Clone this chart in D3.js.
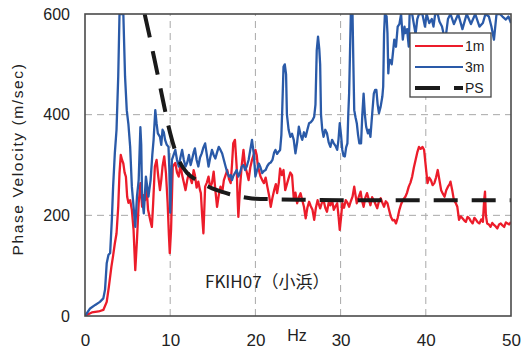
<!DOCTYPE html>
<html>
<head>
<meta charset="utf-8">
<script src="https://cdn.jsdelivr.net/npm/d3@7"></script>
<style>
  html, body { margin: 0; padding: 0; background: #fff; }
  svg { display: block; }
  text { font-family: "Liberation Sans", Arial, "Noto Sans CJK JP", sans-serif; fill: #222; }
</style>
</head>
<body>
<svg id="chart" width="523" height="356"></svg>
<script>
// Phase velocity dispersion curves, site FKIH07 (小浜)
const xTicks = [0, 10, 20, 30, 40, 50];
const yTicks = [0, 200, 400, 600];
const seriesNames = ["1m", "3m", "PS"];

// 1 m array: [frequency Hz, phase velocity m/s]
const red1m = [
  [0,0],[0.2,2],[0.8,7],[1.6,9],[2.15,12],[2.55,28],[2.8,58],[3.1,98],[3.3,120],[3.5,144],[3.7,164],[3.9,217],
  [4.05,284],[4.2,320],[4.35,310],[4.5,303],[4.65,285],[4.8,277],[4.95,237],[5.1,225],[5.3,230],[5.5,211],[5.7,171],
  [5.9,91],[6.1,151],[6.3,224],[6.5,264],[6.7,217],[6.9,240],[7.05,230],[7.25,250],[7.4,211],[7.65,191],[7.85,177],
  [8.0,224],[8.2,297],[8.4,310],[8.6,277],[8.8,250],[8.95,270],[9.1,297],[9.3,317],[9.5,284],[9.7,224],[9.85,160],
  [9.95,125],[10.1,171],[10.3,297],[10.6,304],[10.8,285],[11.0,277],[11.2,300],[11.4,280],[11.6,265],[11.8,250],
  [12.0,270],[12.2,284],[12.4,272],[12.55,264],[12.75,290],[12.9,280],[13.1,255],[13.3,267],[13.5,250],[13.6,244],
  [13.75,200],[13.9,164],[14.1,257],[14.3,265],[14.5,277],[14.7,255],[14.9,264],[15.1,287],[15.3,250],[15.5,217],
  [15.7,240],[15.9,257],[16.1,245],[16.3,270],[16.5,280],[16.7,290],[16.9,272],[17.1,264],[17.25,300],[17.4,343],
  [17.6,350],[17.8,297],[17.9,240],[18.0,197],[18.2,257],[18.4,300],[18.6,330],[18.8,297],[19.0,285],[19.2,270],
  [19.4,295],[19.6,310],[19.8,320],[20.0,330],[20.15,320],[20.3,297],[20.6,277],[20.8,270],[21.0,264],[21.2,275],
  [21.4,257],[21.6,240],[21.8,217],[22.0,235],[22.2,250],[22.4,262],[22.55,244],[22.75,265],[22.9,293],[23.1,280],
  [23.3,290],[23.5,250],[23.7,262],[23.9,274],[24.1,285],[24.3,280],[24.5,234],[24.7,245],[24.9,224],[25.1,236],
  [25.3,244],[25.5,230],[25.7,217],[25.9,194],[26.1,215],[26.3,227],[26.5,218],[26.7,211],[26.9,191],[27.1,215],
  [27.3,230],[27.6,214],[27.8,225],[28.0,230],[28.2,215],[28.4,207],[28.6,225],[28.8,220],[29.0,230],[29.2,211],
  [29.4,218],[29.6,224],[29.75,200],[29.9,171],[30.05,195],[30.2,224],[30.4,215],[30.6,230],[30.8,225],[31.0,217],
  [31.2,228],[31.4,237],[31.6,257],[31.75,240],[31.9,224],[32.1,235],[32.35,247],[32.5,230],[32.7,217],[32.9,235],
  [33.1,244],[33.3,232],[33.5,220],[33.7,236],[33.9,230],[34.1,222],[34.3,214],[34.5,228],[34.7,234],[34.9,225],
  [35.1,217],[35.3,228],[35.5,224],[35.7,210],[35.9,197],[36.1,190],[36.3,191],[36.5,184],[36.7,195],[36.9,211],
  [37.1,222],[37.3,230],[37.6,237],[37.8,245],[38.0,257],[38.2,265],[38.4,277],[38.6,295],[38.8,310],[39.0,325],
  [39.2,336],[39.4,332],[39.6,336],[39.8,330],[40.0,297],[40.2,264],[40.4,275],[40.6,270],[40.8,260],[41.0,264],
  [41.2,275],[41.4,290],[41.6,270],[41.8,250],[42.0,243],[42.2,237],[42.4,250],[42.6,257],[42.8,262],[42.9,267],
  [43.1,250],[43.3,230],[43.5,225],[43.7,217],[43.9,191],[44.1,198],[44.3,194],[44.5,190],[44.7,187],[44.9,197],
  [45.1,194],[45.3,188],[45.5,184],[45.7,195],[45.9,191],[46.1,186],[46.3,184],[46.5,192],[46.7,187],[46.85,230],
  [46.95,247],[47.05,200],[47.2,184],[47.4,182],[47.6,177],[47.8,185],[48.0,181],[48.2,178],[48.4,174],[48.6,182],
  [48.8,184],[49.0,180],[49.2,177],[49.4,186],[49.6,184],[49.8,182],[50.0,187]
];

// 3 m array: [frequency Hz, phase velocity m/s]
const blue3m = [
  [0,0],[0.2,5],[0.6,15],[1.2,22],[1.75,28],[2.15,35],[2.35,52],[2.55,105],[2.75,121],[2.95,125],[3.15,191],
  [3.3,257],[3.5,323],[3.7,370],[3.9,476],[4.05,600],[4.5,600],[4.7,476],[4.9,409],[5.1,380],[5.3,336],[5.5,257],
  [5.7,217],[5.9,177],[6.1,237],[6.3,270],[6.5,375],[6.6,340],[6.7,237],[6.9,204],[7.15,277],[7.45,237],[7.7,270],
  [7.9,320],[8.05,350],[8.25,409],[8.4,383],[8.55,363],[8.8,356],[8.95,340],[9.1,370],[9.25,365],[9.4,350],[9.6,340],
  [9.8,336],[9.9,290],[10.0,205],[10.2,310],[10.4,320],[10.6,330],[10.8,310],[11.0,297],[11.2,315],[11.4,330],
  [11.6,310],[11.8,297],[12.0,305],[12.2,320],[12.4,300],[12.55,310],[12.75,325],[12.9,333],[13.1,310],[13.3,297],
  [13.5,315],[13.7,323],[13.9,335],[14.1,343],[14.3,320],[14.5,297],[14.7,315],[14.9,330],[15.1,320],[15.3,313],
  [15.5,325],[15.7,336],[15.9,330],[16.1,323],[16.3,310],[16.5,297],[16.7,285],[16.9,277],[17.1,280],[17.25,270],
  [17.4,278],[17.6,284],[17.8,290],[18.0,277],[18.2,285],[18.4,297],[18.6,300],[18.8,290],[19.0,298],[19.2,310],
  [19.4,330],[19.6,350],[19.8,323],[20.0,277],[20.2,290],[20.4,303],[20.6,295],[20.8,284],[21.0,288],[21.2,290],
  [21.4,298],[21.6,303],[21.8,305],[22.0,310],[22.2,325],[22.35,330],[22.55,322],[22.75,327],[22.9,330],[23.05,360],
  [23.15,410],[23.3,495],[23.45,500],[23.6,480],[23.7,400],[23.9,370],[24.1,356],[24.3,362],[24.5,350],[24.7,323],
  [24.9,345],[25.1,376],[25.3,360],[25.5,350],[25.7,365],[25.9,356],[26.1,370],[26.3,383],[26.5,385],[26.7,389],
  [26.9,396],[27.05,420],[27.2,528],[27.35,555],[27.5,530],[27.6,500],[27.7,400],[27.85,370],[28.0,356],[28.2,370],
  [28.4,363],[28.6,345],[28.8,336],[29.0,350],[29.2,343],[29.4,338],[29.6,330],[29.75,350],[29.9,383],[30.05,360],
  [30.2,330],[30.35,318],[30.5,317],[30.65,335],[30.8,343],[30.9,400],[31.0,442],[31.1,520],[31.2,600],[31.4,600],
  [31.5,500],[31.6,409],[31.75,395],[31.9,383],[32.05,360],[32.2,343],[32.4,343],[32.55,400],[32.7,442],[32.85,400],
  [33.0,376],[33.2,363],[33.35,370],[33.5,356],[33.7,400],[33.9,442],[34.05,449],[34.2,449],[34.35,420],[34.5,403],
  [34.7,416],[34.9,436],[35.0,456],[35.1,560],[35.2,600],[35.4,595],[35.5,562],[35.6,482],[35.7,509],[35.8,509],
  [36.0,500],[36.1,516],[36.3,549],[36.5,535],[36.7,575],[36.9,580],[37.1,600],[37.3,549],[37.5,575],[37.6,562],
  [37.8,570],[38.0,535],[38.1,600],[38.4,600],[38.6,580],[38.8,560],[39.0,590],[39.2,600],[39.6,600],[39.9,575],
  [40.1,600],[40.4,582],[40.7,590],[40.9,575],[41.1,600],[41.4,600],[41.6,585],[41.9,575],[42.1,560],[42.3,549],
  [42.6,590],[42.9,600],[43.3,580],[43.8,600],[44.3,570],[44.8,600],[45.3,580],[45.8,600],[46.3,575],[46.7,582],
  [47.0,600],[47.4,595],[47.7,575],[48.0,549],[48.3,600],[48.7,600],[49.0,595],[49.4,589],[49.7,595],[50.0,582]
];

// PS-logging theoretical curve
const psFreq = [7.0, 7.5, 8, 8.5, 9, 9.5, 10, 10.5, 11, 11.5, 12, 13, 14, 15, 16, 17, 18, 19, 20, 22, 25, 30, 35, 40, 45, 50];
const psVel  = [600, 562, 522, 482, 441, 400, 363, 333, 310, 295, 284, 271, 261, 253, 247, 242, 238, 235, 233, 232, 231, 230, 230, 230, 230, 230];
const ps = psFreq.map((f, i) => [f, psVel[i]]);

const colors = { "1m": "#ec1c2a", "3m": "#2a5aa8", "PS": "#1a1a1a" };

const svg = d3.select("#chart");
const x = d3.scaleLinear().domain([0, 50]).range([85, 511]);
const y = d3.scaleLinear().domain([0, 600]).range([316, 14]);

// Dashed grid
const grid = svg.append("g").attr("stroke", "#a8a8a8").attr("stroke-width", 1).attr("stroke-dasharray", "7,5");
grid.selectAll("line.v").data(xTicks.slice(1, -1)).join("line")
  .attr("x1", d => x(d)).attr("x2", d => x(d)).attr("y1", y(0)).attr("y2", y(600));
grid.selectAll("line.h").data(yTicks.slice(1, -1)).join("line")
  .attr("y1", d => y(d)).attr("y2", d => y(d)).attr("x1", x(0)).attr("x2", x(50));

svg.append("clipPath").attr("id", "plotClip").append("rect")
  .attr("x", x(0)).attr("y", y(600)).attr("width", x(50) - x(0)).attr("height", y(0) - y(600));

const line = d3.line().x(d => x(d[0])).y(d => y(d[1]));
const plot = svg.append("g").attr("clip-path", "url(#plotClip)");

plot.append("path").datum(red1m).attr("d", line)
  .attr("fill", "none").attr("stroke", colors["1m"]).attr("stroke-width", 2.3).attr("stroke-linejoin", "round");
plot.append("path").datum(blue3m).attr("d", line)
  .attr("fill", "none").attr("stroke", colors["3m"]).attr("stroke-width", 2.3).attr("stroke-linejoin", "round");
plot.append("path").datum(ps).attr("d", d3.line().curve(d3.curveMonotoneX).x(d => x(d[0])).y(d => y(d[1])))
  .attr("fill", "none").attr("stroke", colors["PS"]).attr("stroke-width", 4).attr("stroke-dasharray", "24,14");

// Frame
svg.append("rect").attr("x", x(0)).attr("y", y(600)).attr("width", x(50) - x(0)).attr("height", y(0) - y(600))
  .attr("fill", "none").attr("stroke", "#4a4a4a").attr("stroke-width", 1.6);

// Axes
const xAxis = svg.append("g").attr("transform", `translate(0,${y(0)})`)
  .call(d3.axisBottom(x).tickValues(xTicks).tickSize(0).tickPadding(18).tickFormat(d3.format("d")));
xAxis.select(".domain").remove();
xAxis.selectAll("text").attr("font-size", 17).style("fill", "#222");

const yAxis = svg.append("g").attr("transform", `translate(${x(0)},0)`)
  .call(d3.axisLeft(y).tickValues(yTicks).tickSize(0).tickPadding(15).tickFormat(d3.format("d")));
yAxis.select(".domain").remove();
yAxis.selectAll("text").attr("font-size", 16).style("fill", "#222");

svg.append("text").attr("x", 297).attr("y", 341).attr("text-anchor", "middle")
  .attr("font-size", 16).text("Hz");

svg.append("text").attr("transform", "translate(23,159) rotate(-90)").attr("text-anchor", "middle")
  .attr("font-size", 15.5).attr("letter-spacing", 1.6).text("Phase Velocity (m/sec)");

svg.append("text").attr("x", 205).attr("y", 288).attr("font-size", 17)
  .style("font-family", "'Noto Sans CJK JP', sans-serif").text("FKIH07（小浜）");

// Legend
const lg = svg.append("g").attr("transform", "translate(410,33)");
lg.append("rect").attr("width", 81).attr("height", 64).attr("fill", "#fff")
  .attr("stroke", "#444").attr("stroke-width", 1.3);
seriesNames.forEach((name, i) => {
  const yy = 13 + i * 21;
  lg.append("line").attr("x1", 5).attr("x2", 53).attr("y1", yy).attr("y2", yy)
    .attr("stroke", colors[name])
    .attr("stroke-width", name === "PS" ? 4 : 2)
    .attr("stroke-dasharray", name === "PS" ? "25,14" : null);
  lg.append("text").attr("x", 55).attr("y", yy + 5).attr("font-size", 14).text(name);
});
</script>
</body>
</html>
